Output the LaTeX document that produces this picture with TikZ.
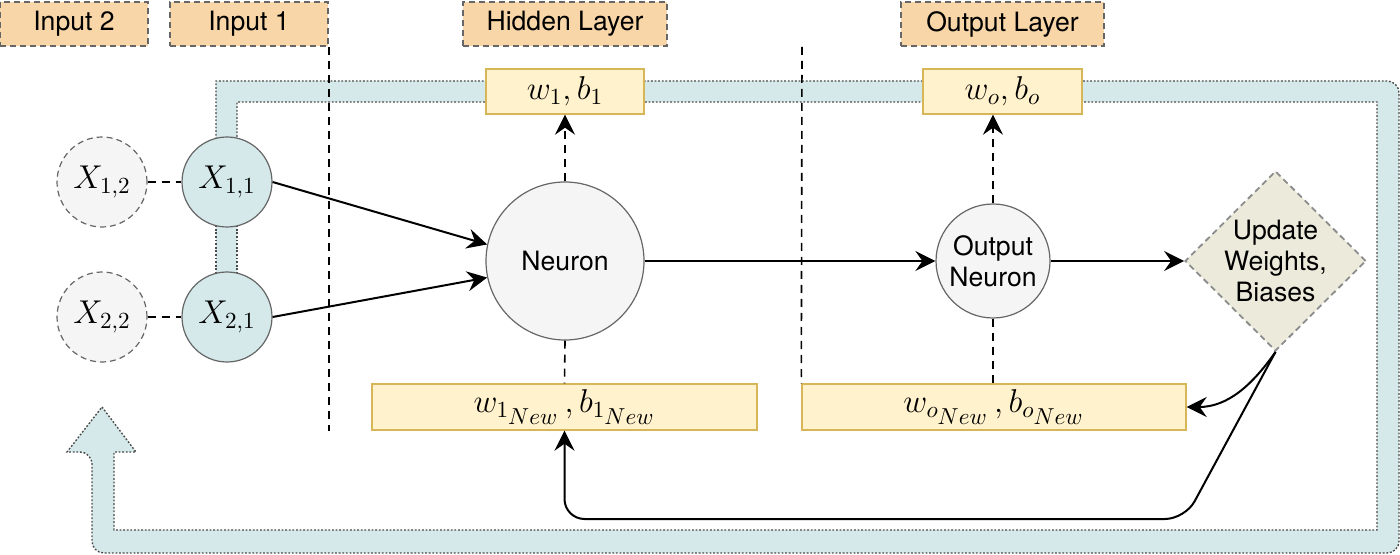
\RequirePackage{fix-cm}
\documentclass[tikz,border=0pt]{standalone}
\usepackage{amsmath}
\usepackage{fontspec}
\setsansfont{TeX Gyre Heros}
\usetikzlibrary{positioning,shapes,arrows.meta}
\definecolor{peach}{HTML}{F8D6A8}
\definecolor{wfill}{HTML}{FFF2CC}
\definecolor{wdraw}{HTML}{D6B656}
\definecolor{tealfill}{HTML}{D5E9EA}
\definecolor{greyfill}{HTML}{F5F5F5}
\definecolor{edgegrey}{HTML}{666666}
\definecolor{bandline}{HTML}{4A4A4A}
\definecolor{updfill}{HTML}{EBEADB}

\begin{document}
\begin{tikzpicture}[x=0.5pt,y=-0.5pt,
  every node/.style={font=\sffamily\fontsize{13.3}{15.5}\selectfont},
  head/.style={draw=edgegrey,dash pattern=on 3pt off 2pt,line width=0.9pt,fill=peach,minimum height=22pt,inner sep=0},
  wbox/.style={draw=wdraw,fill=wfill,line width=0.7pt,minimum height=22.5pt,inner sep=0,font=\fontsize{16.5}{19}\selectfont},
  inp/.style={circle,draw=edgegrey,fill=tealfill,line width=0.6pt,minimum size=45pt,inner sep=0,font=\fontsize{16.5}{19}\selectfont},
  ghost/.style={inp,fill=greyfill,dash pattern=on 3pt off 2pt},
  neur/.style={circle,draw=edgegrey,fill=greyfill,line width=0.6pt,inner sep=0,align=center},
  arr/.style={-{Stealth[length=10pt,width=10pt,inset=3.5pt]},line width=1pt},
  dsh/.style={dash pattern=on 4pt off 3pt,line width=0.8pt},
  band/.style={fill=tealfill,draw=bandline,line width=0.7pt,dash pattern=on 0.9pt off 0.9pt}
]
\useasboundingbox (0,0) rectangle (1400,555);
% feedback band
\draw[band] (102,407) -- (136,452) -- (114,452) -- (114,530) -- (1377,530) -- (1377,102)
  -- (237,102) -- (237,150) -- (216,150) -- (216,81) [rounded corners=6pt] -- (1399,81)
  -- (1399,553) -- (92,553) -- (92,452) [sharp corners] -- (67,452) -- cycle;
\fill[tealfill] (216,200) rectangle (237,300);
\draw[band] (216,200) -- (216,300) (237,200) -- (237,300);

\node[head,minimum width=74pt] (in2) at (74,24) {Input 2};
\node[head,minimum width=79pt] (in1) at (249,24) {Input 1};
\node[head,minimum width=102pt] (hid) at (565,24) {Hidden Layer};
\node[head,minimum width=101.5pt] (outl) at (1002.5,24) {Output Layer};

\node[wbox,minimum width=79pt] (wb1) at (565,91.5) {$w_1, b_1$};
\node[wbox,minimum width=79.5pt] (wbo) at (1002.5,91.5) {$w_o, b_o$};
\node[wbox,minimum width=192.5pt,minimum height=23pt] (wb1n) at (564.5,407) {$w_{1_{\scriptstyle New}}\,, b_{1_{\scriptstyle New}}$};
\node[wbox,minimum width=192pt,minimum height=23pt] (wbon) at (994,407) {$w_{o_{\scriptstyle New}}\,, b_{o_{\scriptstyle New}}$};

\node[ghost] (x12) at (102,182) {$X_{1,2}$};
\node[inp] (x11) at (227,182) {$X_{1,1}$};
\node[ghost] (x22) at (102,317) {$X_{2,2}$};
\node[inp] (x21) at (227,317) {$X_{2,1}$};
\node[neur,minimum size=79pt] (neu) at (565,261) {Neuron};
\node[neur,minimum size=57pt] (outn) at (993,261) {Output\\Neuron};
\node[diamond,draw=edgegrey!75,dash pattern=on 3pt off 2pt,line width=0.9pt,fill=updfill,minimum width=90.5pt,minimum height=90pt,inner sep=0,
  label={[align=center]center:Update\\Weights,\\Biases}] (upd) at (1275.5,261) {};

\draw[dsh] (in1.south east) -- ++(0,384);
\draw[dsh] (802,47) -- (wbon.north west);

\draw[dsh] (x12) -- (x11);
\draw[dsh] (x22) -- (x21);
\draw[arr] (x11.east) -- (neu.168);
\draw[arr] (x21.east) -- (neu.192);
\draw[arr] (neu.east) -- (outn.west);
\draw[arr] (outn.east) -- (upd.west);
\draw[arr,dsh] (neu.north) -- (wb1.south);
\draw[dsh] (neu.south) -- (wb1n.north);
\draw[arr,dsh] (outn.north) -- (outn.north |- wbo.south);
\draw[dsh] (outn.south) -- (outn.south |- wbon.north);

\coordinate (turn) at (1185,519);
\draw[arr] (upd.south) to[out=235,in=0] (wbon.east);
\draw[arr,rounded corners=10pt] (upd.south) -- (turn) -- (wb1n.south |- turn) -- (wb1n.south);
\end{tikzpicture}
\end{document}
